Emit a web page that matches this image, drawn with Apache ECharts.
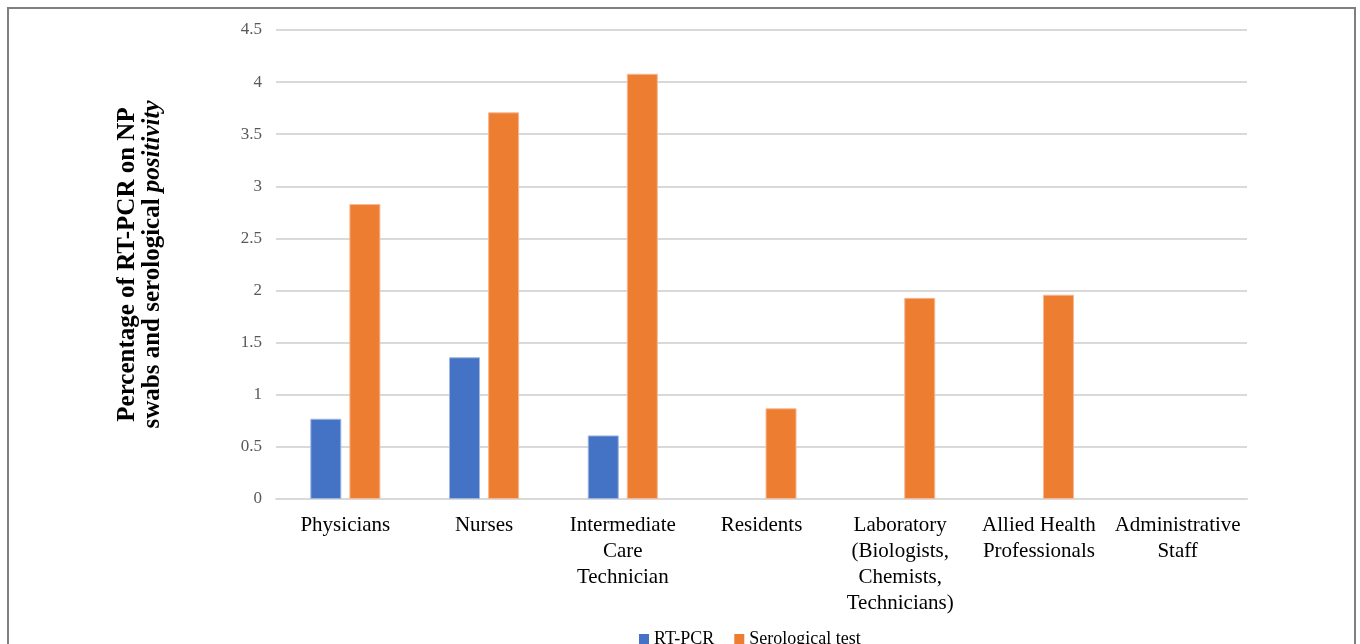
<!DOCTYPE html>
<html>
<head>
<meta charset="utf-8">
<script src="https://cdn.jsdelivr.net/npm/echarts@6/dist/echarts.min.js"></script>
<style>
  html, body { margin: 0; padding: 0; background: #fff; }
  #chart { width: 1360px; height: 644px; }
</style>
</head>
<body>
<div id="chart"></div>
<script>
// categories (line breaks as in the original labels)
const categories = [
  'Physicians',
  'Nurses',
  'Intermediate\nCare\nTechnician',
  'Residents',
  'Laboratory\n(Biologists,\nChemists,\nTechnicians)',
  'Allied Health\nProfessionals',
  'Administrative\nStaff'
]

// percentages
const rtPcr = [0.77, 1.36, 0.61, null, null, null, null]
const serological = [2.83, 3.71, 4.08, 0.87, 1.93, 1.96, null]

const seriesNames = ['RT-PCR', 'Serological test']
const yTicks = { min: 0, max: 4.5, interval: 0.5 }

const serif = 'Liberation Serif, Times New Roman, serif'

const chart = echarts.init(document.getElementById('chart'))

chart.setOption({
  animation: false,
  backgroundColor: '#fff',
  graphic: [{
    type: 'rect',
    shape: { x: 8, y: 8, width: 1347, height: 700 },
    style: { fill: 'none', stroke: '#7f7f7f', lineWidth: 2 },
    silent: true
  }],
  grid: { left: 276, right: 113, top: 30, bottom: 145 },
  legend: {
    data: seriesNames,
    top: 625,
    left: 634,
    itemWidth: 10,
    itemHeight: 10,
    itemGap: 20,
    icon: 'rect',
    itemStyle: { borderWidth: 0 },
    textStyle: { fontFamily: serif, fontSize: 18, color: '#000' }
  },
  xAxis: {
    type: 'category',
    data: categories,
    axisLine: { lineStyle: { color: '#d9d9d9', width: 2 } },
    axisTick: { show: false },
    axisLabel: {
      interval: 0,
      margin: 13,
      fontFamily: serif,
      fontSize: 21,
      lineHeight: 26,
      color: '#000'
    }
  },
  yAxis: {
    type: 'value',
    min: yTicks.min,
    max: yTicks.max,
    interval: yTicks.interval,
    name: 'Percentage of RT-PCR on NP\nswabs and serological {it|positivity}',
    nameLocation: 'middle',
    nameRotate: 90,
    nameGap: 111,
    nameTextStyle: {
      fontFamily: serif,
      fontSize: 25,
      fontWeight: 'bold',
      lineHeight: 25,
      align: 'center',
      color: '#000',
      rich: {
        it: {
          fontFamily: serif,
          fontSize: 25,
          fontWeight: 'bold',
          fontStyle: 'italic',
          lineHeight: 25,
          color: '#000'
        }
      }
    },
    axisLine: { show: false },
    axisTick: { show: false },
    axisLabel: {
      margin: 14,
      fontFamily: serif,
      fontSize: 17,
      color: '#595959'
    },
    splitLine: { lineStyle: { color: '#d9d9d9', width: 2 } }
  },
  series: [
    {
      name: seriesNames[0],
      type: 'bar',
      data: rtPcr,
      barWidth: 31,
      barGap: '26%',
      itemStyle: { color: '#4472c4', borderColor: '#9fb6e0', borderWidth: 1 }
    },
    {
      name: seriesNames[1],
      type: 'bar',
      data: serological,
      barWidth: 31,
      itemStyle: { color: '#ed7d31', borderColor: '#f6b892', borderWidth: 1 }
    }
  ]
})
</script>
</body>
</html>
